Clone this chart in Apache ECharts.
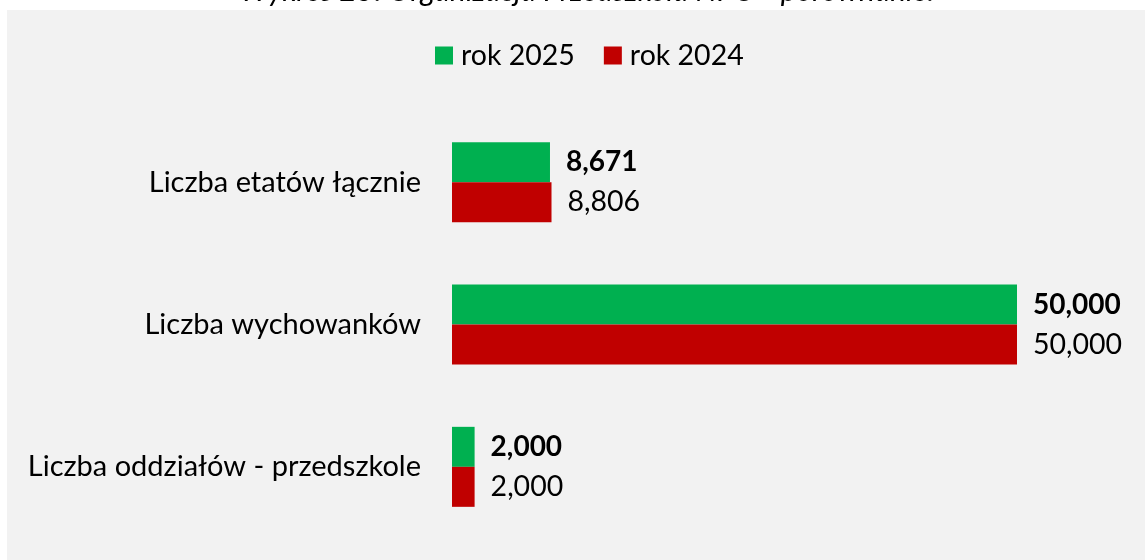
<!DOCTYPE html>
<html>
<head>
<meta charset="utf-8">
<script src="https://cdn.jsdelivr.net/npm/echarts@6/dist/echarts.min.js"></script>
<style>
  html, body { margin: 0; padding: 0; background: #ffffff; }
  #chart { width: 1145px; height: 560px; }
</style>
</head>
<body>
<div id="chart"></div>
<script>
// dane z wykresu
var categories = ['Liczba etatów łącznie', 'Liczba wychowanków', 'Liczba oddziałów - przedszkole'];
var rok2025 = [8.671, 50, 2];
var rok2024 = [8.806, 50, 2];
var seriesNames = ['rok 2025', 'rok 2024'];

var FONT = 'Lato';

function fmt(p) {
  return p.value.toFixed(3).replace('.', ',');
}

var chart = echarts.init(document.getElementById('chart'));

var option = {
  backgroundColor: '#ffffff',
  animation: false,
  textStyle: { fontFamily: FONT },
  graphic: [
    {
      type: 'rect',
      z: -10,
      shape: { x: 7, y: 10, width: 1145, height: 560 },
      style: { fill: '#f2f2f2' }
    },
    {
      type: 'text',
      x: 587,
      y: -9,
      style: {
        text: 'Wykres 25. Organizacja Przedszkola NPO - porównanie.',
        fontFamily: FONT,
        fontStyle: 'italic',
        fontSize: 30,
        fill: '#000',
        align: 'center',
        verticalAlign: 'middle'
      }
    }
  ],
  legend: {
    top: 36,
    left: 430,
    itemWidth: 18,
    itemHeight: 18,
    itemGap: 29,
    icon: 'rect',
    textStyle: { fontSize: 28.5, color: '#000', fontFamily: FONT, padding: [0, 0, 0, 3] },
    data: seriesNames
  },
  grid: {
    left: 452,
    right: 128,
    top: 111,
    bottom: 22,
    containLabel: false
  },
  xAxis: {
    type: 'value',
    min: 0,
    max: 50,
    show: false
  },
  yAxis: {
    type: 'category',
    inverse: true,
    data: categories,
    axisLine: { show: false },
    axisTick: { show: false },
    axisLabel: { fontSize: 29, color: '#000', margin: 31, fontFamily: FONT }
  },
  series: [
    {
      name: seriesNames[0],
      type: 'bar',
      data: rok2025,
      barWidth: 40,
      barGap: '0%',
      itemStyle: { color: '#00b050' },
      label: {
        show: true,
        position: 'right',
        distance: 16,
        formatter: fmt,
        fontSize: 28,
        fontWeight: 'bold',
        color: '#000',
        fontFamily: FONT
      }
    },
    {
      name: seriesNames[1],
      type: 'bar',
      data: rok2024,
      barWidth: 40,
      itemStyle: { color: '#c00000' },
      label: {
        show: true,
        position: 'right',
        distance: 16,
        formatter: fmt,
        fontSize: 28.5,
        color: '#000',
        fontFamily: FONT
      }
    }
  ]
};

chart.setOption(option);
</script>
</body>
</html>
